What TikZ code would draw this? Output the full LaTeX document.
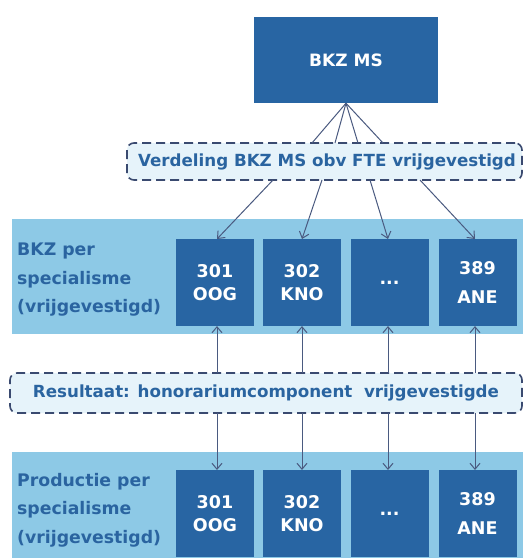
\documentclass[tikz,border=0pt]{standalone}
\usepackage{fontspec}
\setmainfont{DejaVu Sans}
\usetikzlibrary{arrows.meta}
\definecolor{boxblue}{HTML}{2865A3}
\definecolor{bandblue}{HTML}{8DC9E6}
\definecolor{dashfill}{HTML}{E6F3FA}
\definecolor{dashline}{HTML}{3A4A70}
\definecolor{txtblue}{HTML}{2A64A0}
\definecolor{conn}{HTML}{4A5A80}
\tikzset{
  darkbox/.style={draw=none, fill=boxblue, text=white, font=\bfseries\fontsize{17.5}{23}\selectfont, align=center, inner sep=0pt, minimum width=78pt, minimum height=87pt},
  band/.style={draw=none, fill=bandblue, inner sep=0pt},
  dashbox/.style={draw=dashline, line width=1.6pt, dash pattern=on 9pt off 5pt, fill=dashfill, rounded corners=7pt, text=txtblue, font=\bfseries\fontsize{16.7}{20}\selectfont, inner sep=0pt},
  sidelabel/.style={text=txtblue, font=\bfseries\fontsize{17.3}{28.5}\selectfont, align=left, anchor=north west, inner sep=0pt},
  link/.style={draw=conn, line width=1pt},
  arr/.style={link, -{Straight Barb[length=6pt,width=10pt]}}
}
\begin{document}
\begin{tikzpicture}[x=1pt,y=-1pt]
\useasboundingbox (0,0) rectangle (523,558);
\fill[white] (0,0) rectangle (523,558);
% bands
\node[band, minimum width=511pt, minimum height=115pt] (band1) at (267.5,276.5) {};
\node[band, minimum width=511pt, minimum height=106pt] (band2) at (267.5,505) {};
% top box
\node[darkbox, minimum width=184pt, minimum height=86pt, font=\bfseries\fontsize{17}{20}\selectfont] (ms) at (346,60) {BKZ MS};
% dashed boxes
\node[dashbox, minimum width=395pt, minimum height=37pt] (verd) at (324.5,161.5) {\hspace*{5pt}Verdeling BKZ MS obv FTE vrijgevestigd};
\node[dashbox, minimum width=512pt, minimum height=40pt] (res) at (266,393) {Resultaat: honorariumcomponent\ \ vrijgevestigde};
% side labels
\node[sidelabel] (lab1) at (17,243) {BKZ per\\specialisme\\(vrijgevestigd)};
\node[sidelabel] (lab2) at (17,473) {Productie per\\specialisme\\(vrijgevestigd)};
% boxes row 1
\node[darkbox] (a1) at (215,282.5) {301\\OOG};
\node[darkbox] (a2) at (302,282.5) {302\\KNO};
\node[darkbox] (a3) at (389.5,282.5) {...};
\node[darkbox, font=\bfseries\fontsize{17.5}{29}\selectfont] (a4) at (477.5,282.5) {389\\ANE};
% boxes row 2
\node[darkbox] (b1) at (215,513.5) {301\\OOG};
\node[darkbox] (b2) at (302,513.5) {302\\KNO};
\node[darkbox] (b3) at (389.5,513.5) {...};
\node[darkbox, font=\bfseries\fontsize{17.5}{29}\selectfont] (b4) at (477.5,513.5) {389\\ANE};
% connectors top
\foreach \i/\x in {1/312,2/335,3/358,4/383}{
  \coordinate (vt\i) at (\x,143);
  \draw[link] (ms.south) -- (vt\i);
}
\foreach \i/\x/\tx in {1/273/217,2/322/302,3/370/388,4/420/475}{
  \coordinate (vb\i) at (\x,180);
  \coordinate (at\i) at (\tx,239);
  \draw[arr] (vb\i) -- (at\i);
}
% connectors lower
\foreach \i/\x in {1/217,2/302,3/388,4/475}{
  \coordinate (rt\i) at (\x,373);
  \coordinate (rb\i) at (\x,413);
  \coordinate (ab\i) at (\x,326);
  \coordinate (bt\i) at (\x,470);
  \draw[arr] (rt\i) -- (ab\i);
  \draw[arr] (rb\i) -- (bt\i);
}
\end{tikzpicture}
\end{document}
